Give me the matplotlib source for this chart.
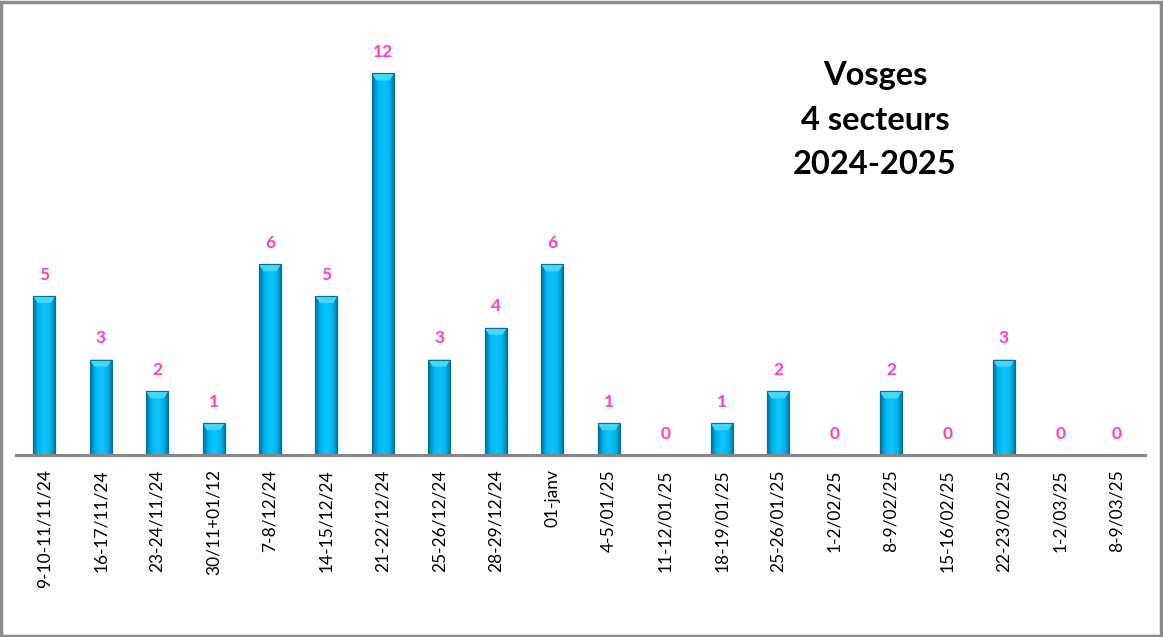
import matplotlib
matplotlib.use("Agg")
import matplotlib.pyplot as plt
import numpy as np
from matplotlib.patches import Rectangle, Polygon
from matplotlib.colors import LinearSegmentedColormap

categories = ["9-10-11/11/24", "16-17/11/24", "23-24/11/24", "30/11+01/12", "7-8/12/24",
              "14-15/12/24", "21-22/12/24", "25-26/12/24", "28-29/12/24", "01-janv",
              "4-5/01/25", "11-12/01/25", "18-19/01/25", "25-26/01/25", "1-2/02/25",
              "8-9/02/25", "15-16/02/25", "22-23/02/25", "1-2/03/25", "8-9/03/25"]
values = [5, 3, 2, 1, 6, 5, 12, 3, 4, 6, 1, 0, 1, 2, 0, 2, 0, 3, 0, 0]
title_lines = ["Vosges", "4 secteurs", "2024-2025"]

plt.rcParams['font.family'] = ['Lato', 'DejaVu Sans']

W, H = 1163, 637
fig = plt.figure(figsize=(W / 100, H / 100), dpi=100)
fig.patch.set_facecolor("white")

left, right, bottom, top = 16, 1145, 455, 41.6
ax = fig.add_axes([left / W, 1 - bottom / H, (right - left) / W, (bottom - top) / H])
ax.set_xlim(-0.5, len(values) - 0.5)
ax.set_ylim(0, 13)
ax.axis("off")

x = np.arange(len(values))
bw = 0.39
bars = ax.bar(x, values, width=bw, color="#00B4EC", edgecolor="#0A6E90", linewidth=0.8, zorder=2)

grad = np.linspace(0, 1, 64)
prof = 1 - 0.55 * np.abs(grad - 0.5) * 2
cmap = LinearSegmentedColormap.from_list("b", ["#0072A0", "#00B8F2", "#10C4FA"])
img = np.tile(prof, (2, 1))
for b, v in zip(bars, values):
    if v <= 0:
        continue
    x0, w_ = b.get_x(), b.get_width()
    im = ax.imshow(img, cmap=cmap, vmin=0.45, vmax=1, aspect="auto",
                   extent=[x0, x0 + w_, 0, v], zorder=2.5, interpolation="bicubic")
    im.set_clip_path(b)
    bev = 0.22
    tri = Polygon([[x0, v], [x0 + w_, v], [x0 + w_ * 0.8, v - bev], [x0 + w_ * 0.2, v - bev]],
                  closed=True, facecolor="#45D8FF", edgecolor="none", zorder=3)
    ax.add_patch(tri)
    ax.add_patch(Rectangle((x0, 0), w_, v, facecolor="none", edgecolor="#0A6E90", lw=0.8, zorder=3.5))

ax.plot([-0.5, len(values) - 0.5], [0, 0], color="#868686", lw=2.2, zorder=4, clip_on=False)

for xi, v in zip(x, values):
    ax.text(xi, v + 0.42, str(v), ha="center", va="bottom", color="#FF3CC8",
            fontsize=12.5, fontweight="bold", zorder=5)

for xi, c in zip(x, categories):
    ax.text(xi, -0.45, c, ha="center", va="top", rotation=90, fontsize=12.5, color="black")

for i, t in enumerate(title_lines):
    fig.text(875 / W, 1 - (75 + 45 * i) / H, t, ha="center", va="center",
             fontsize=23.5, fontweight="bold", color="black")

fig.add_artist(Rectangle((1 / W, 1 / H), (W - 3) / W, (H - 3) / H, transform=fig.transFigure,
                         facecolor="none", edgecolor="#8C8C8C", lw=2.5))

fig.savefig("out.png", dpi=100, facecolor="white")
